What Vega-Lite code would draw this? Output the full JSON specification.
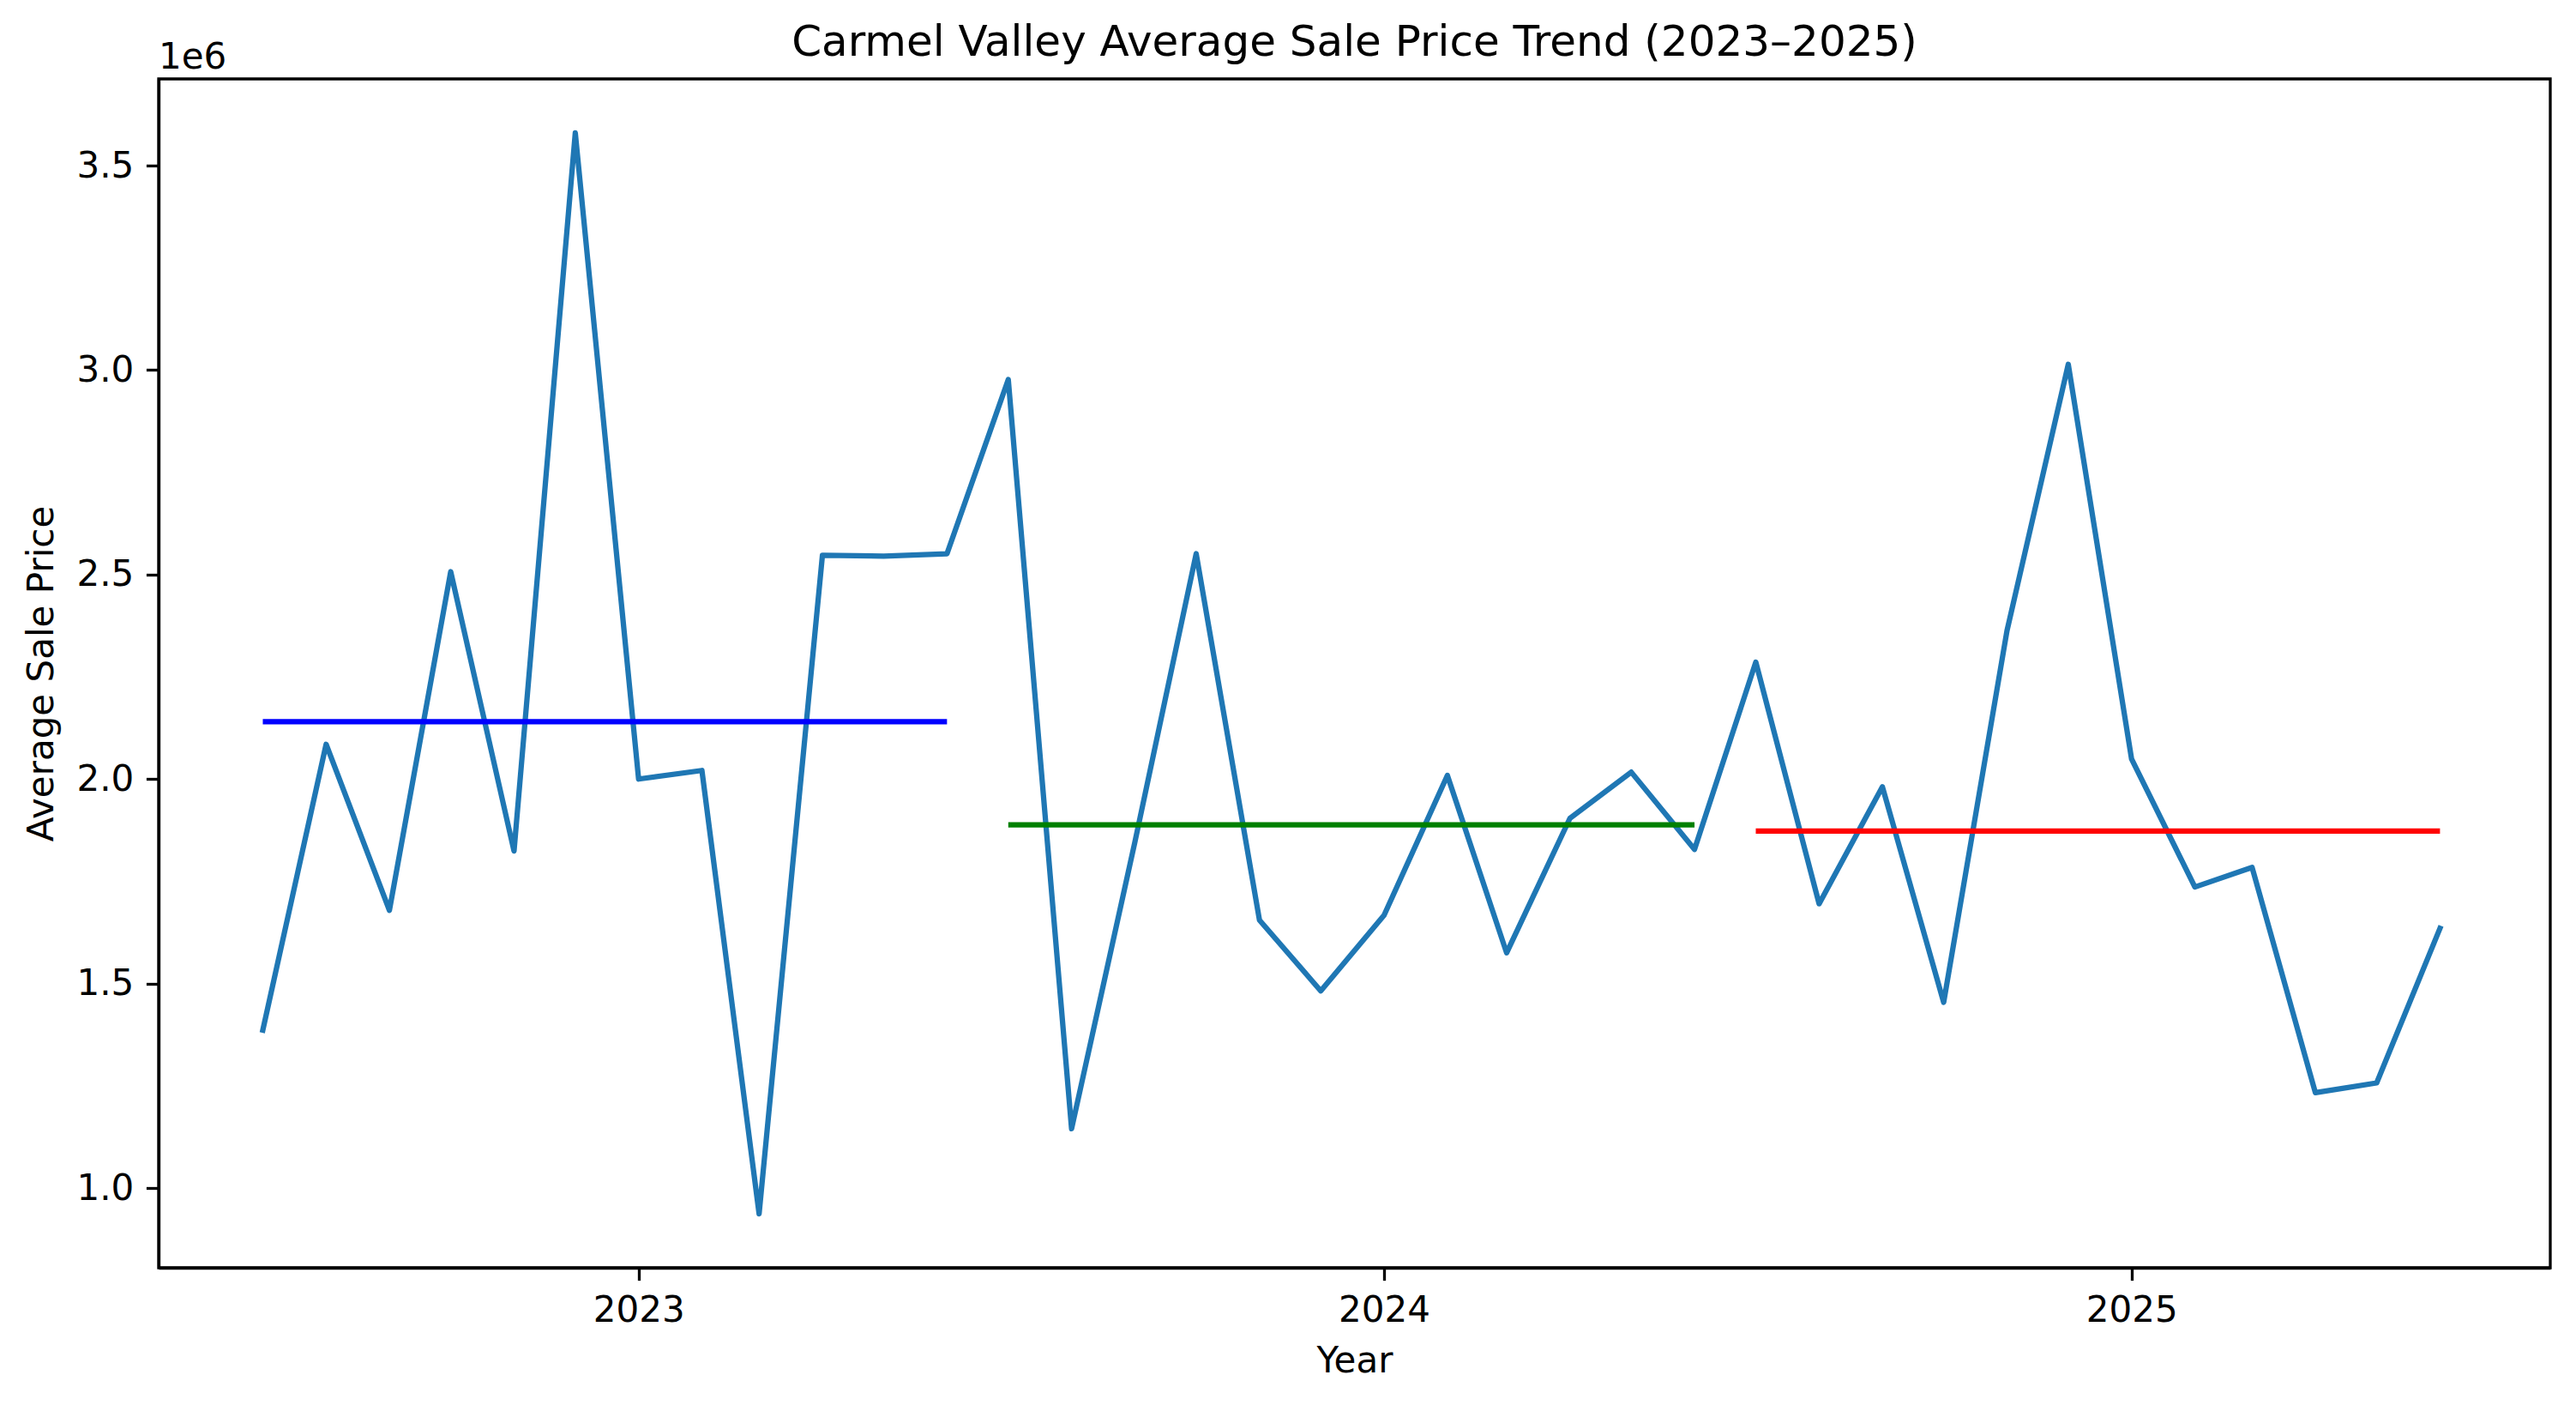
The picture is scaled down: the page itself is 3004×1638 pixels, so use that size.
{
  "$schema": "https://vega.github.io/schema/vega-lite/v6.json",
  "width": 2789,
  "height": 1386,
  "autosize": {"type": "none"},
  "padding": {"left": 185, "top": 92, "right": 30, "bottom": 160},
  "title": {
    "text": "Carmel Valley Average Sale Price Trend (2023–2025)",
    "fontSize": 50,
    "fontWeight": "normal",
    "font": "DejaVu Sans",
    "color": "black",
    "offset": 16,
    "dy": 45,
    "anchor": "middle",
    "frame": "group"
  },
  "config": {
    "font": "DejaVu Sans",
    "view": {"stroke": "black", "strokeWidth": 3.3},
    "axis": {
      "grid": false,
      "domainColor": "black",
      "domainWidth": 3.3,
      "tickColor": "black",
      "tickWidth": 3.3,
      "tickSize": 14.6,
      "labelPadding": 14.6,
      "labelFontSize": 42,
      "labelColor": "black",
      "titleFontSize": 42,
      "titleFontWeight": "normal",
      "titleColor": "black"
    }
  },
  "datasets": {
    "sales": [
      {"month": "2022-07-01", "price": 1386000},
      {"month": "2022-08-01", "price": 2085000},
      {"month": "2022-09-01", "price": 1679000},
      {"month": "2022-10-01", "price": 2507000},
      {"month": "2022-11-01", "price": 1824000},
      {"month": "2022-12-01", "price": 3580000},
      {"month": "2023-01-01", "price": 2000000},
      {"month": "2023-02-01", "price": 2021000},
      {"month": "2023-03-01", "price": 937000},
      {"month": "2023-04-01", "price": 2547000},
      {"month": "2023-05-01", "price": 2545000},
      {"month": "2023-06-01", "price": 2551000},
      {"month": "2023-07-01", "price": 2977000},
      {"month": "2023-08-01", "price": 1145000},
      {"month": "2023-09-01", "price": 1846000},
      {"month": "2023-10-01", "price": 2551000},
      {"month": "2023-11-01", "price": 1655000},
      {"month": "2023-12-01", "price": 1482000},
      {"month": "2024-01-01", "price": 1667000},
      {"month": "2024-02-01", "price": 2009000},
      {"month": "2024-03-01", "price": 1575000},
      {"month": "2024-04-01", "price": 1904000},
      {"month": "2024-05-01", "price": 2017000},
      {"month": "2024-06-01", "price": 1828000},
      {"month": "2024-07-01", "price": 2286000},
      {"month": "2024-08-01", "price": 1695000},
      {"month": "2024-09-01", "price": 1981000},
      {"month": "2024-10-01", "price": 1454000},
      {"month": "2024-11-01", "price": 2363000},
      {"month": "2024-12-01", "price": 3014000},
      {"month": "2025-01-01", "price": 2049000},
      {"month": "2025-02-01", "price": 1736000},
      {"month": "2025-03-01", "price": 1784000},
      {"month": "2025-04-01", "price": 1233000},
      {"month": "2025-05-01", "price": 1257000},
      {"month": "2025-06-01", "price": 1635000}
    ],
    "means": [
      {"period": "2022-23", "start": "2022-07-01", "end": "2023-06-01", "mean": 2140000},
      {"period": "2023-24", "start": "2023-07-01", "end": "2024-06-01", "mean": 1888000},
      {"period": "2024-25", "start": "2024-07-01", "end": "2025-06-01", "mean": 1873000}
    ]
  },
  "layer": [
    {
      "data": {"name": "sales"},
      "mark": {"type": "line", "color": "#1f77b4", "strokeWidth": 6.25, "strokeJoin": "round", "strokeCap": "square"},
      "encoding": {
        "x": {
          "field": "month",
          "type": "temporal",
          "title": "Year",
          "scale": {"type": "utc", "domain": ["2022-05-11", "2025-07-25"]},
          "axis": {
            "values": [
              {"year": 2023, "month": 1, "date": 1, "utc": true},
              {"year": 2024, "month": 1, "date": 1, "utc": true},
              {"year": 2025, "month": 1, "date": 1, "utc": true}
            ],
            "format": "%Y",
            "titlePadding": 18
          }
        },
        "y": {
          "field": "price",
          "type": "quantitative",
          "title": "Average Sale Price",
          "scale": {"domain": [805000, 3712000], "nice": false, "zero": false},
          "axis": {
            "values": [1000000, 1500000, 2000000, 2500000, 3000000, 3500000],
            "labelExpr": "format(datum.value / 1000000, '.1f')",
            "titlePadding": 19
          }
        }
      }
    },
    {
      "data": {"name": "means"},
      "mark": {"type": "rule", "strokeWidth": 6.25},
      "encoding": {
        "x": {"field": "start", "type": "temporal"},
        "x2": {"field": "end"},
        "y": {"field": "mean", "type": "quantitative"},
        "color": {
          "field": "period",
          "type": "nominal",
          "scale": {"domain": ["2022-23", "2023-24", "2024-25"], "range": ["blue", "green", "red"]},
          "legend": null
        }
      }
    },
    {
      "data": {"values": [{"label": "1e6"}]},
      "mark": {"type": "text", "fontSize": 42, "align": "left", "baseline": "alphabetic", "dy": -12, "color": "black"},
      "encoding": {
        "text": {"field": "label"},
        "x": {"datum": {"year": 2022, "month": 5, "date": 11, "utc": true}, "type": "temporal"},
        "y": {"datum": 3712000, "type": "quantitative"}
      }
    }
  ]
}
